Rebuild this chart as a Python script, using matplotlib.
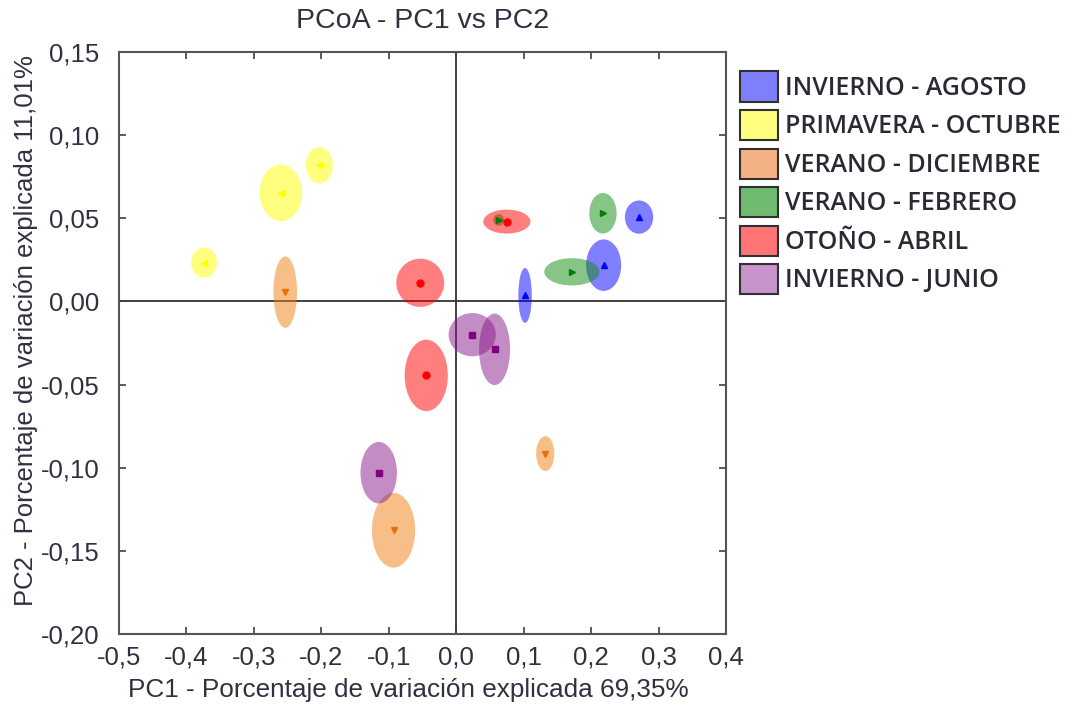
import matplotlib
matplotlib.use('Agg')
import matplotlib.pyplot as plt
from matplotlib.patches import Ellipse, Patch

plt.rcParams['font.family'] = ['Liberation Sans', 'DejaVu Sans']

# groups (season - month)
groups = ['INVIERNO - AGOSTO', 'PRIMAVERA - OCTUBRE', 'VERANO - DICIEMBRE',
          'VERANO - FEBRERO', 'OTOÑO - ABRIL', 'INVIERNO - JUNIO']
fill_colors = ['#0000ff', '#ffff00', '#f07f10', '#108c10', '#ff0000', '#8a1a8a']
marker_colors = ['#0000ff', '#ffff00', '#e8700a', '#0a7a0a', '#ff0000', '#800080']
legend_colors = ['#7f7ffb', '#ffff7f', '#f4b183', '#70bb70', '#ff7474', '#c994cc']
markers = ['^', '<', 'v', '>', 'o', 's']

# sample centroids (PC1, PC2) and ellipse widths/heights per group
pc1 = [[0.102, 0.2185, 0.271],
       [-0.374, -0.260, -0.203],
       [-0.2536, -0.093, 0.132],
       [0.063, 0.1715, 0.2175],
       [-0.0534, 0.075, -0.0445],
       [0.0237, 0.0568, -0.115]]
pc2 = [[0.0036, 0.0218, 0.0507],
       [0.0234, 0.0653, 0.0819],
       [0.0056, -0.1376, -0.0915],
       [0.049, 0.0178, 0.053],
       [0.0112, 0.048, -0.0445],
       [-0.020, -0.0288, -0.103]]
ell_w = [[0.020, 0.052, 0.042],
         [0.0386, 0.063, 0.040],
         [0.035, 0.064, 0.027],
         [0.016, 0.082, 0.0405],
         [0.071, 0.070, 0.064],
         [0.070, 0.046, 0.054]]
ell_h = [[0.033, 0.031, 0.020],
         [0.018, 0.034, 0.022],
         [0.043, 0.045, 0.021],
         [0.007, 0.0164, 0.0244],
         [0.029, 0.0144, 0.043],
         [0.026, 0.043, 0.037]]

xticks = [-0.5, -0.4, -0.3, -0.2, -0.1, 0.0, 0.1, 0.2, 0.3, 0.4]
xticklabels = ['-0,5', '-0,4', '-0,3', '-0,2', '-0,1', '0,0', '0,1', '0,2', '0,3', '0,4']
yticks = [-0.20, -0.15, -0.10, -0.05, 0.0, 0.05, 0.10, 0.15]
yticklabels = ['-0,20', '-0,15', '-0,10', '-0,05', '0,00', '0,05', '0,10', '0,15']

fig = plt.figure(figsize=(10.83, 7.15), dpi=100)
ax = fig.add_axes([0.1099, 0.1133, 0.5605, 0.814])

for i in range(len(groups)):
    for x, y, w, h in zip(pc1[i], pc2[i], ell_w[i], ell_h[i]):
        ax.add_patch(Ellipse((x, y), w, h, facecolor=fill_colors[i],
                             edgecolor='none', alpha=0.5, zorder=2))
        ax.plot(x, y, marker=markers[i], color=marker_colors[i],
                markersize=5, linestyle='none', zorder=3)

ax.axhline(0, color='#333333', lw=1.3, zorder=1)
ax.axvline(0, color='#333333', lw=1.3, zorder=1)

ax.set_xlim(-0.5, 0.4)
ax.set_ylim(-0.20, 0.15)
ax.set_xticks(xticks)
ax.set_xticklabels(xticklabels, fontsize=18.5, color='#303040')
ax.set_yticks(yticks)
ax.set_yticklabels(yticklabels, fontsize=18.5, color='#303040')
ax.tick_params(axis='x', pad=8)
ax.tick_params(axis='y', pad=14)
ax.tick_params(direction='in', length=5, width=1.2, color='#404040',
               top=True, right=True)
for s in ax.spines.values():
    s.set_color('#555555')
    s.set_linewidth(1.5)

ax.set_title('PCoA - PC1 vs PC2', fontsize=20.5, color='#303040', pad=17)
ax.set_xlabel('PC1 - Porcentaje de variación explicada 69,35%', fontsize=18.8,
              color='#303040')
ax.set_ylabel('PC2 - Porcentaje de variación explicada 11,01%', fontsize=18.5,
              color='#303040')
ax.xaxis.set_label_coords(0.476, -0.0756)
ax.yaxis.set_label_coords(-0.134, 0.521)

handles = [Patch(facecolor=c, edgecolor='#303030', linewidth=1.5) for c in legend_colors]
leg = fig.legend(handles, groups, loc='upper left', bbox_to_anchor=(0.674, 0.914),
                 frameon=False,
                 prop={'family': 'Open Sans', 'size': 18, 'weight': 'semibold'},
                 handlelength=1.52, handleheight=1.47, labelspacing=0.34,
                 handletextpad=0.3, borderaxespad=0)
for t in leg.get_texts():
    t.set_color('#2a2a35')

fig.savefig('out.png', dpi=100)
